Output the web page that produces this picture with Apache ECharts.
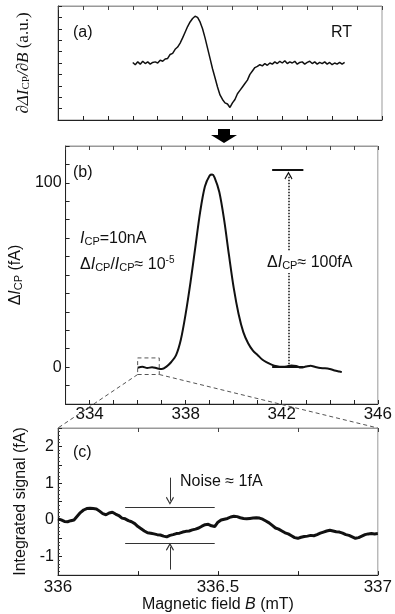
<!DOCTYPE html>
<html>
<head>
<meta charset="utf-8">
<script src="https://cdn.jsdelivr.net/npm/echarts@6/dist/echarts.min.js"></script>
<style>
html, body { margin: 0; background: #fff; }
#chart { width: 395px; height: 614px; }
</style>
</head>
<body>
<div id="chart"></div>
<script>
// (a) derivative signal, RT
const derivField = [336.0, 336.1, 336.2, 336.3, 336.4, 336.5, 336.6, 336.7, 336.8, 336.9,
	337.0, 337.1, 337.2, 337.3, 337.4, 337.5, 337.6, 337.7, 337.8, 337.9,
	338.0, 338.1, 338.2, 338.3, 338.4, 338.5, 338.6, 338.7, 338.8, 338.9,
	339.0, 339.1, 339.2, 339.3, 339.4, 339.5, 339.6, 339.7, 339.8, 339.9,
	340.0, 340.1, 340.2, 340.3, 340.4, 340.5, 340.6, 340.7, 340.8, 340.9,
	341.0, 341.1, 341.2, 341.3, 341.4, 341.5, 341.6, 341.7, 341.8, 341.9,
	342.0, 342.1, 342.2, 342.3, 342.4, 342.5, 342.6, 342.7, 342.8, 342.9,
	343.0, 343.1, 343.2, 343.3, 343.4, 343.5, 343.6, 343.7, 343.8, 343.9,
	344.0, 344.1, 344.2, 344.3, 344.4, 344.5];
const derivSignal = [0.05, -0.15, 0.1, -0.1, 0.15, -0.05, 0.1, -0.1, 0.05, 0.1,
	0.0, 0.25, 0.15, 0.35, 0.4, 0.75, 0.85, 1.2, 1.4, 1.75,
	2.2, 2.7, 3.2, 3.6, 3.9, 4.1, 4.0, 3.6, 3.0, 2.2,
	1.3, 0.4, -0.5, -1.3, -2.1, -2.8, -3.2, -3.5, -3.6, -3.9,
	-3.5, -3.2, -2.7, -2.4, -2.1, -1.8, -1.5, -1.0, -0.7, -0.4,
	-0.3, -0.15, -0.25, -0.05, -0.2, 0.0, -0.1, 0.1, -0.05, 0.15,
	0.0, 0.2, -0.05, 0.1, 0.0, 0.15, -0.1, 0.05, 0.1, -0.1,
	0.05, 0.15, -0.05, 0.1, -0.1, 0.05, -0.05, 0.1, -0.1, 0.05,
	-0.15, 0.0, -0.1, 0.05, -0.1, 0.05];

// (b) integrated current change (fA)
const peakField = [336.0, 336.2, 336.4, 336.6, 336.8, 337.0, 337.2, 337.4, 337.6, 337.8,
	338.0, 338.2, 338.4, 338.6, 338.8, 339.0, 339.1, 339.2, 339.4, 339.6,
	339.8, 340.0, 340.2, 340.4, 340.6, 340.8, 341.0, 341.2, 341.4, 341.6,
	341.8, 342.0, 342.2, 342.4, 342.6, 342.8, 343.0, 343.2, 343.4, 343.6,
	343.8, 344.0, 344.2, 344.4, 344.5];
const peakSignal = [-0.3, 0.2, -0.5, 0.0, -0.6, -1.0, 0.3, 2.8, 6.5, 15,
	29, 46, 65, 84, 98, 104, 104.5, 103, 95, 80,
	61, 43, 29, 19, 13, 9, 6.5, 4, 2.5, 1.2,
	0.5, 0.2, 0.3, 0.9, 0.6, -0.2, 0.3, 0.8, 0.1, -0.5,
	-0.6, -1.0, -1.8, -2.4, -2.7];

// (c) zoom of the baseline, 336-337 mT
const noiseField = [336.00, 336.01, 336.02, 336.03, 336.04, 336.05, 336.06, 336.07, 336.08, 336.09,
	336.10, 336.11, 336.12, 336.13, 336.14, 336.15, 336.16, 336.17, 336.18, 336.19,
	336.20, 336.21, 336.22, 336.23, 336.24, 336.25, 336.26, 336.27, 336.28, 336.29,
	336.30, 336.31, 336.32, 336.33, 336.34, 336.35, 336.36, 336.37, 336.38, 336.39,
	336.40, 336.41, 336.42, 336.43, 336.44, 336.45, 336.46, 336.47, 336.48, 336.49,
	336.50, 336.51, 336.52, 336.53, 336.54, 336.55, 336.56, 336.57, 336.58, 336.59,
	336.60, 336.61, 336.62, 336.63, 336.64, 336.65, 336.66, 336.67, 336.68, 336.69,
	336.70, 336.71, 336.72, 336.73, 336.74, 336.75, 336.76, 336.77, 336.78, 336.79,
	336.80, 336.81, 336.82, 336.83, 336.84, 336.85, 336.86, 336.87, 336.88, 336.89,
	336.90, 336.91, 336.92, 336.93, 336.94, 336.95, 336.96, 336.97, 336.98, 336.99,
	337.00];
const noiseSignal = [0.03, 0.00, -0.04, -0.05, -0.02, 0.00, 0.10, 0.20, 0.27, 0.31,
	0.32, 0.31, 0.30, 0.24, 0.17, 0.14, 0.19, 0.21, 0.16, 0.12,
	0.05, 0.03, -0.02, -0.05, -0.10, -0.18, -0.24, -0.30, -0.35, -0.36,
	-0.38, -0.40, -0.41, -0.44, -0.46, -0.42, -0.40, -0.37, -0.36, -0.33,
	-0.31, -0.30, -0.27, -0.25, -0.22, -0.17, -0.13, -0.12, -0.16, -0.18,
	-0.06, 0.00, 0.02, 0.04, 0.08, 0.10, 0.09, 0.06, 0.04, 0.03,
	0.04, 0.05, 0.06, 0.05, 0.02, -0.03, -0.08, -0.15, -0.22, -0.25,
	-0.30, -0.35, -0.38, -0.43, -0.48, -0.50, -0.47, -0.45, -0.44, -0.42,
	-0.43, -0.40, -0.36, -0.33, -0.30, -0.28, -0.30, -0.32, -0.33, -0.36,
	-0.40, -0.42, -0.46, -0.50, -0.48, -0.44, -0.40, -0.38, -0.37, -0.38,
	-0.37];

// axis ranges and labelled ticks
const fieldRange = [333, 346];
const fieldLabels = [334, 338, 342, 346];
const derivRange = [-5, 5];
const peakRange = [-20, 120];
const peakLabels = [0, 100];
const zoomRange = [336, 337];
const zoomLabels = [336, 336.5, 337];
const zoomSignalRange = [-1.5, 2.5];
const zoomSignalLabels = [-1, 0, 1, 2];

// annotations
const zoomBoxField = [336, 336.9];
const zoomBoxSignal = [-4, 5];
const levelSpan = [341.6, 342.9];
const levelValues = [0, 107];
const levelArrow = { field: 342.28, from: 0, to: 104 };
const noiseSpan = [336.21, 336.49];
const noiseBands = [0.35, -0.63];
const noiseArrowField = 336.35;
const noiseArrowDown = [1.15, 0.52];
const noiseArrowUp = [-1.35, -0.73];

const sans = "'Liberation Sans', Arial, sans-serif";
const serif = "'Liberation Serif', 'Times New Roman', serif";
const ink = "#111";
const chevron = "path://M5 0L10 7L9 8L5 2.4L1 8L0 7Z";

const zip = (xs, ys) => xs.map((x, i) => [x, ys[i]]);
const only = list => v => (list.some(t => Math.abs(t - v) < 1e-9) ? String(v) : "");

const grids = [
	{ left: 58, top: 6, width: 324, height: 114 },
	{ left: 58, top: 146, width: 324, height: 258 },
	{ left: 58, top: 428, width: 324, height: 148 }
].map(g => ({ ...g, show: true, borderColor: "#999", borderWidth: 1 }));

const bottomAxis = (gridIndex, range, step, labels, extra) => ({
	type: "value", gridIndex, min: range[0], max: range[1], interval: step,
	axisLine: { onZero: false, lineStyle: { color: "#222", width: 1 } },
	axisTick: { inside: true, length: 4, lineStyle: { color: "#222" } },
	axisLabel: labels
		? { show: true, formatter: only(labels), fontSize: 17, fontFamily: sans, color: ink, margin: 2, showMinLabel: true, showMaxLabel: true }
		: { show: false },
	splitLine: { show: false },
	...extra
});
const topAxis = (gridIndex, range, step) => ({
	type: "value", gridIndex, position: "top", min: range[0], max: range[1], interval: step,
	axisLine: { onZero: false, lineStyle: { color: "#999", width: 1 } },
	axisTick: { inside: true, length: 4, lineStyle: { color: "#444" } },
	axisLabel: { show: false },
	splitLine: { show: false }
});
const leftAxis = (gridIndex, range, step, labels, extra) => ({
	type: "value", gridIndex, min: range[0], max: range[1], interval: step,
	axisLine: { onZero: false, lineStyle: { color: "#222", width: 1 } },
	axisTick: { inside: true, length: 4, lineStyle: { color: "#222" } },
	axisLabel: labels
		? { show: true, formatter: only(labels), fontSize: 16, fontFamily: sans, color: ink, margin: 4 }
		: { show: false },
	splitLine: { show: false },
	nameLocation: "middle",
	nameRotate: 90,
	...extra
});

const subStyle = (family, size) => ({ fontFamily: family, fontSize: size, lineHeight: 8, verticalAlign: "bottom", color: ink });
const mainStyle = (family, size, italic) => ({ fontFamily: family, fontSize: size, fontStyle: italic ? "italic" : "normal", lineHeight: 18, verticalAlign: "bottom", color: ink });

const segment = (xAxisIndex, yAxisIndex, coords, style, arrow) => ({
	type: "lines",
	coordinateSystem: "cartesian2d",
	xAxisIndex, yAxisIndex,
	polyline: false,
	silent: true,
	symbol: arrow ? ["none", chevron] : ["none", "none"],
	symbolSize: [10, 8],
	lineStyle: { color: ink, opacity: 1, ...style },
	data: coords.map(c => ({ coords: c })),
	z: 5
});

const text = (id, x, y, str, rich) => ({
	type: "text", id, x, y, z: 100,
	style: { text: str, rich, font: "16px " + sans, fill: ink, verticalAlign: "middle" }
});

const chart = echarts.init(document.getElementById("chart"), null, { renderer: "canvas" });

const option = {
	animation: false,
	backgroundColor: "#fff",
	grid: grids,
	xAxis: [
		bottomAxis(0, fieldRange, 1, null),
		topAxis(0, fieldRange, 1),
		bottomAxis(1, fieldRange, 1, fieldLabels),
		topAxis(1, fieldRange, 1),
		bottomAxis(2, zoomRange, 0.25, zoomLabels, {
			axisLabel: { show: true, formatter: only(zoomLabels), fontSize: 17, fontFamily: sans, color: ink, margin: 4, showMinLabel: true, showMaxLabel: true },
			name: "Magnetic field {i|B} (mT)",
			nameLocation: "middle",
			nameGap: 18,
			nameTextStyle: {
				fontSize: 16, fontFamily: sans, color: ink, verticalAlign: "top",
				rich: { i: { fontSize: 16, fontFamily: sans, fontStyle: "italic", color: ink } }
			}
		}),
		topAxis(2, zoomRange, 0.25)
	],
	yAxis: [
		leftAxis(0, derivRange, 1, null, {
			name: "{i|∂ΔI}{s|CP}{i|/∂B}{n| (a.u.)}",
			nameGap: 26,
			nameTextStyle: {
				rich: {
					i: mainStyle(serif, 17, true),
					s: subStyle(serif, 11),
					n: mainStyle(serif, 17, false)
				}
			}
		}),
		leftAxis(1, peakRange, 10, peakLabels, {
			name: "{d|Δ}{i|I}{s|CP}{n| (fA)}",
			nameGap: 27,
			nameTextStyle: {
				rich: {
					d: mainStyle(sans, 16, false),
					i: mainStyle(sans, 16, true),
					s: subStyle(sans, 11),
					n: mainStyle(sans, 16, false)
				}
			}
		}),
		leftAxis(2, zoomSignalRange, 0.5, zoomSignalLabels, {
			minorTick: { show: true, splitNumber: 5, length: 2, lineStyle: { color: "#444" } },
			name: "Integrated signal (fA)",
			nameGap: 27,
			nameTextStyle: { fontSize: 16, fontFamily: sans, color: ink }
		})
	],
	series: [
		{
			name: "derivative", type: "line", xAxisIndex: 0, yAxisIndex: 0,
			data: zip(derivField, derivSignal), showSymbol: false, silent: true,
			lineStyle: { color: ink, width: 1.5 }
		},
		{
			name: "peak", type: "line", xAxisIndex: 2, yAxisIndex: 1,
			data: zip(peakField, peakSignal), showSymbol: false, silent: true, smooth: 0.3,
			lineStyle: { color: ink, width: 2 }
		},
		{
			name: "zoom box", type: "line", xAxisIndex: 2, yAxisIndex: 1, silent: true, showSymbol: false,
			data: [
				[zoomBoxField[0], zoomBoxSignal[0]], [zoomBoxField[1], zoomBoxSignal[0]],
				[zoomBoxField[1], zoomBoxSignal[1]], [zoomBoxField[0], zoomBoxSignal[1]],
				[zoomBoxField[0], zoomBoxSignal[0]]
			],
			lineStyle: { color: "#555", width: 1, type: [4, 3] }
		},
		segment(2, 1, levelValues.map(v => [[levelSpan[0], v], [levelSpan[1], v]]), { width: 2 }),
		segment(2, 1, [[[levelArrow.field, levelArrow.from], [levelArrow.field, levelArrow.to]]], { width: 1.5, type: [1.5, 1.5] }, true),
		{
			name: "noise", type: "line", xAxisIndex: 4, yAxisIndex: 2,
			data: zip(noiseField, noiseSignal), showSymbol: false, silent: true,
			lineStyle: { color: ink, width: 3 }
		},
		segment(4, 2, noiseBands.map(v => [[noiseSpan[0], v], [noiseSpan[1], v]]), { width: 1, color: "#333" }),
		segment(4, 2, [
			[[noiseArrowField, noiseArrowDown[0]], [noiseArrowField, noiseArrowDown[1]]],
			[[noiseArrowField, noiseArrowUp[0]], [noiseArrowField, noiseArrowUp[1]]]
		], { width: 1, color: "#333" }, true)
	],
	graphic: [
		text("ta", 73, 33, "(a)"),
		text("trt", 331, 33, "RT"),
		{
			type: "polygon", id: "bigArrow", z: 100,
			shape: { points: [[218, 129], [230, 129], [230, 135], [237, 135], [224, 143], [211, 135], [218, 135]] },
			style: { fill: "#000" }
		},
		text("tb", 73, 173, "(b)"),
		text("ticp", 80, 238, "{i|I}{s|CP}{n|=10nA}", {
			i: mainStyle(sans, 16, true), s: subStyle(sans, 11), n: mainStyle(sans, 16, false)
		}),
		text("tratio", 80, 264, "{n|Δ}{i|I}{s|CP}{n|/}{i|I}{s|CP}{n|≈ 10}{p|-5}", {
			i: mainStyle(sans, 16, true), s: subStyle(sans, 11), n: mainStyle(sans, 16, false),
			p: { fontFamily: sans, fontSize: 10, lineHeight: 8, verticalAlign: "top", color: ink }
		}),
		{
			type: "text", id: "tdelta", x: 267, y: 262, z: 100,
			style: {
				text: "{n|Δ}{i|I}{s|CP}{n|≈ 100fA}",
				rich: { i: mainStyle(sans, 16, true), s: subStyle(sans, 11), n: mainStyle(sans, 16, false) },
				backgroundColor: "#fff", padding: [2, 0, 2, 0], verticalAlign: "middle", fill: ink
			}
		},
		text("tc", 73, 453, "(c)"),
		text("tnoise", 180, 482, "Noise ≈ 1fA")
	]
};

chart.setOption(option);

// dashed guide lines from the zoom box in (b) down to the corners of (c)
const boxLeft = chart.convertToPixel({ gridIndex: 1 }, [zoomBoxField[0], zoomBoxSignal[0]]);
const boxRight = chart.convertToPixel({ gridIndex: 1 }, [zoomBoxField[1], zoomBoxSignal[0]]);
const cLeft = chart.convertToPixel({ gridIndex: 2 }, [zoomRange[0], zoomSignalRange[1]]);
const cRight = chart.convertToPixel({ gridIndex: 2 }, [zoomRange[1], zoomSignalRange[1]]);
const guide = (id, a, b) => ({
	type: "line", id, z: 90, silent: true,
	shape: { x1: a[0], y1: a[1], x2: b[0], y2: b[1] },
	style: { stroke: "#555", lineWidth: 1, lineDash: [4, 3] }
});
chart.setOption({ graphic: [guide("gLeft", boxLeft, cLeft), guide("gRight", boxRight, cRight)] });
</script>
</body>
</html>
